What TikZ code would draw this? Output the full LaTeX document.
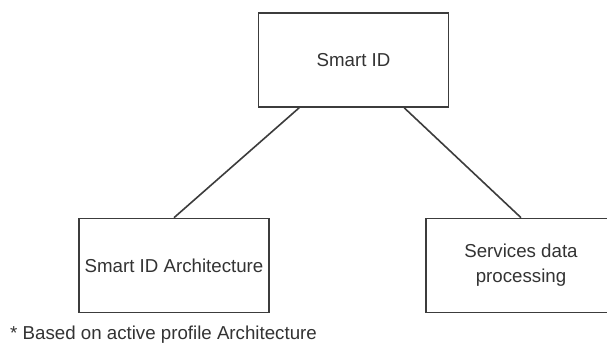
\documentclass[tikz,border=0pt]{standalone}
\usepackage{fontspec}
\setmainfont{Liberation Sans}
\usepackage{tikz}
\definecolor{inkgray}{RGB}{51,51,51}
\definecolor{linegray}{RGB}{60,60,60}

\begin{document}
\begin{tikzpicture}[x=1pt,y=-1pt,
  box/.style={draw=linegray,line width=1.6pt,minimum width=190pt,minimum height=94pt,
    inner sep=0pt,align=center,text=inkgray,font=\fontsize{18.7}{25}\selectfont},
  link/.style={draw=linegray,line width=1.6pt}]
\clip (0,0) rectangle (607,344);
\fill[white] (0,0) rectangle (607,344);

\node[box] (smartid) at (353.5,60) {Smart ID};
\node[box] (arch) at (174,265.5) {Smart ID Architecture};
\node[box] (serv) at (521,265.5) {Services data\\processing};

\draw[link] (smartid) -- (arch.north);
\draw[link] (smartid) -- (serv.north);

\node[anchor=base west,inner sep=0pt,text=inkgray,font=\fontsize{18.7}{22}\selectfont] (note) at (10,339) {* Based on active profile Architecture};

\end{tikzpicture}
\end{document}
